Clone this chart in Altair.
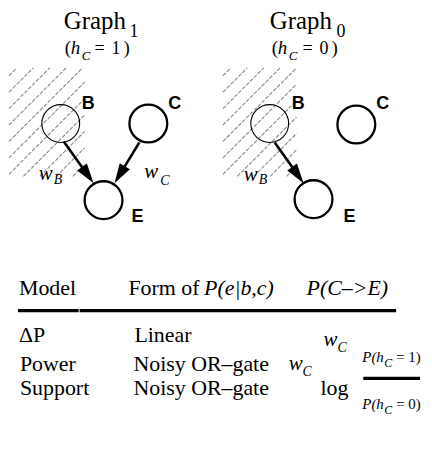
import math
import altair as alt
import pandas as pd

# ---------------- data ----------------
# nodes (graph 1 = left, graph 0 = right)
node_graph = [1, 1, 1, 0, 0, 0]
node_name = ["B", "C", "E", "B", "C", "E"]
node_x = [59, 147, 102, 269, 356, 313]
node_y = [123, 123, 200, 123, 124, 199]
node_hatched = [True, False, False, True, False, False]

# causal edges: start point -> arrow tip
edge_x1 = [62, 138, 274]
edge_y1 = [141, 142, 142]
edge_x2 = [92, 113, 303]
edge_y2 = [183, 183, 183]

# hatched background regions (x-range, y-range)
hatch_x = [(7, 83), (222, 296)]
hatch_y = [(67, 176), (67, 176)]
hatch_c0 = [82, 297]
hatch_step = 16.5

# table rules (x1, x2, y)
rule_x1 = [16, 78]
rule_x2 = [77, 396]
rule_y = [311, 311]
frac_x1, frac_x2, frac_y = 363, 420, 379

# texts: (text, x, baseline y, size)
serif_texts = [
    ("Graph", 62, 28, 25), ("1", 128, 36, 18),
    ("Graph", 269, 28, 25), ("0", 336, 36, 18),
    ("(", 63, 53, 19), ("=", 93, 53, 18), ("1", 110, 53, 18), (")", 122, 53, 19),
    ("(", 271, 53, 19), ("=", 302, 53, 18), ("0", 319, 53, 18), (")", 331, 53, 19),
    ("Model", 17, 295, 22), ("Form of", 127, 295, 22),
    ("\u0394P", 17, 343, 22), ("Linear", 133, 343, 22),
    ("Power", 18, 372, 22), ("Noisy OR\u2013gate", 132, 372, 22),
    ("Support", 18, 396, 22), ("Noisy OR\u2013gate", 132, 396, 22),
    ("log", 320, 396, 22),
    ("= 1)", 396, 363, 15), ("= 0)", 396, 410, 15),
]
italic_texts = [
    ("h", 69, 53, 19), ("C", 80, 59, 13),
    ("h", 277, 53, 19), ("C", 288, 59, 13),
    ("w", 37, 180, 21), ("B", 52, 184, 14),
    ("w", 143, 178, 21), ("C", 159, 185, 14),
    ("w", 243, 181, 21), ("B", 258, 184, 14),
    ("P(e|b,c)", 203, 295, 22), ("P(C\u2013>E)", 306, 295, 22),
    ("w", 323, 347, 21), ("C", 337, 353, 14),
    ("w", 288, 371, 21), ("C", 302, 377, 14),
    ("P(h", 362, 363, 15), ("C", 384, 368, 12),
    ("P(h", 362, 410, 15), ("C", 384, 415, 12),
]
label_texts = [
    ("B", 80, 108, 18), ("C", 167, 108, 18), ("E", 130, 222, 18),
    ("B", 291, 108, 18), ("C", 376, 108, 18), ("E", 343, 222, 18),
]

# ---------------- build tables ----------------
W, H = 416, 446
xs = alt.Scale(domain=[8, 8 + W], nice=False, zero=False)
ys = alt.Scale(domain=[8, 8 + H], nice=False, zero=False, reverse=True)


def X(f):
    return alt.X(f, type="quantitative", scale=xs, axis=None)


def Y(f):
    return alt.Y(f, type="quantitative", scale=ys, axis=None)


# hatch segments: lines x + y = c clipped to the rectangle
hseg = []
for (xa, xb), (ya, yb), c0 in zip(hatch_x, hatch_y, hatch_c0):
    c = c0 - 3 * hatch_step
    while c < xb + yb:
        lo = max(xa, c - yb)
        hi = min(xb, c - ya)
        if hi - lo > 1:
            hseg.append({"x": lo, "y": c - lo, "x2": hi, "y2": c - hi})
        c += hatch_step
hatch_df = pd.DataFrame(hseg)

nodes_df = pd.DataFrame({"g": node_graph, "n": node_name, "x": node_x,
                         "y": node_y, "h": node_hatched})

shafts, heads = [], []
HEAD = 20.0
for x1, y1, x2, y2 in zip(edge_x1, edge_y1, edge_x2, edge_y2):
    dx, dy = x2 - x1, y2 - y1
    L = math.hypot(dx, dy)
    ux, uy = dx / L, dy / L
    shafts.append({"x": x1, "y": y1, "x2": x2 - ux * (HEAD - 6), "y2": y2 - uy * (HEAD - 6)})
    ang = math.degrees(math.atan2(-ux, uy)) % 360
    heads.append({"x": x2 - ux * HEAD / 2, "y": y2 - uy * HEAD / 2, "a": ang})
shaft_df = pd.DataFrame(shafts)
head_df = pd.DataFrame(heads)

rules_df = pd.DataFrame({"x": rule_x1, "x2": rule_x2, "y": rule_y})
frac_df = pd.DataFrame({"x": [frac_x1], "x2": [frac_x2], "y": [frac_y]})


def tdf(items):
    return pd.DataFrame(items, columns=["t", "x", "y", "s"])


# ---------------- layers ----------------
hatch = alt.Chart(hatch_df).mark_rule(color="#8a8a8a", strokeWidth=1.1, strokeDash=[4, 1.5]).encode(
    x=X("x"), y=Y("y"), x2="x2", y2="y2")

circles = alt.Chart(nodes_df).mark_point(shape="circle", filled=False, color="black", size=1444, opacity=1).encode(
    x=X("x"), y=Y("y"),
    strokeWidth=alt.condition("datum.h", alt.value(1.1), alt.value(2.3)))

shaft = alt.Chart(shaft_df).mark_rule(color="black", strokeWidth=2.6).encode(
    x=X("x"), y=Y("y"), x2="x2", y2="y2")

head = alt.Chart(head_df).mark_point(shape="M0,1L-0.6,-1L0.6,-1Z", filled=True, color="black",
                                     size=HEAD * HEAD, opacity=1, strokeWidth=0).encode(
    x=X("x"), y=Y("y"), angle=alt.Angle("a:Q", scale=None))

trules = alt.Chart(rules_df).mark_rule(color="black", strokeWidth=3.5).encode(
    x=X("x"), x2="x2", y=Y("y"))
frac = alt.Chart(frac_df).mark_rule(color="black", strokeWidth=3.2).encode(
    x=X("x"), x2="x2", y=Y("y"))


def text_layer(items, font, style="normal", weight="normal"):
    return alt.Chart(tdf(items)).mark_text(align="left", baseline="alphabetic", font=font,
                                           fontStyle=style, fontWeight=weight, color="black").encode(
        x=X("x"), y=Y("y"), text="t:N", size=alt.Size("s:Q", scale=None, legend=None))


t_serif = text_layer(serif_texts, "Liberation Serif")
t_ital = text_layer(italic_texts, "Liberation Serif", style="italic")
t_lab = text_layer(label_texts, "Liberation Sans", weight="bold")

chart = alt.layer(hatch, circles, shaft, head, trules, frac, t_serif, t_ital, t_lab).properties(
    width=W, height=H, padding=0, background="white"
).configure_view(stroke=None)

chart.save("out.html", embed_options={"renderer": "svg", "actions": False})
